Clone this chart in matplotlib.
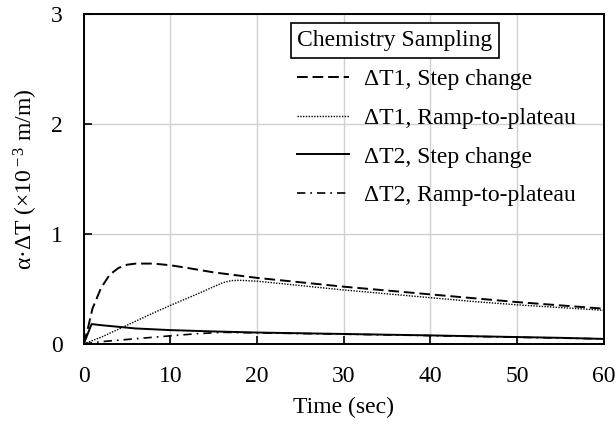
import matplotlib.pyplot as plt

plt.rcParams['font.family'] = 'Liberation Serif'
plt.rcParams['mathtext.fontset'] = 'custom'
plt.rcParams['mathtext.rm'] = 'Liberation Serif'
plt.rcParams['mathtext.it'] = 'Liberation Serif:italic'

# dT1, step change (dashed)
t_t1_step = [0, 0.5, 1, 2, 3, 4, 5, 6, 8, 10, 12, 15, 20, 25, 30, 35, 40, 45, 50, 55, 60]
v_t1_step = [0, 0.15, 0.32, 0.51, 0.63, 0.69, 0.72, 0.73, 0.73, 0.715, 0.69, 0.65, 0.60, 0.56, 0.52, 0.485, 0.45, 0.415, 0.38, 0.35, 0.32]

# dT1, ramp-to-plateau (dotted)
t_t1_ramp = [0, 2, 5, 8, 10, 13, 16, 17, 18, 20, 25, 30, 35, 40, 45, 50, 55, 60]
v_t1_ramp = [0, 0.06, 0.17, 0.28, 0.35, 0.45, 0.555, 0.575, 0.578, 0.57, 0.53, 0.49, 0.455, 0.42, 0.385, 0.355, 0.33, 0.305]

# dT2, step change (solid)
t_t2_step = [0, 0.9, 2, 4, 6, 10, 15, 20, 30, 40, 50, 55, 60]
v_t2_step = [0, 0.18, 0.17, 0.155, 0.14, 0.125, 0.113, 0.103, 0.09, 0.077, 0.062, 0.055, 0.045]

# dT2, ramp-to-plateau (dash-dot)
t_t2_ramp = [0, 2, 5, 8, 10, 13, 16, 20, 30, 40, 50, 60]
v_t2_ramp = [0, 0.02, 0.04, 0.06, 0.073, 0.092, 0.105, 0.10, 0.088, 0.075, 0.06, 0.045]

fig = plt.figure(figsize=(6.16, 4.24), dpi=100)
ax = fig.add_axes([0.136, 0.189, 0.844, 0.778])

ax.plot(t_t1_step, v_t1_step, color='black', lw=1.4, dashes=(5.5, 2.5), label='ΔT1, Step change')
ax.plot(t_t1_ramp, v_t1_ramp, color='black', lw=1.0, dashes=(1, 1), label='ΔT1, Ramp-to-plateau')
ax.plot(t_t2_step, v_t2_step, color='black', lw=1.4, label='ΔT2, Step change')
ax.plot(t_t2_ramp, v_t2_ramp, color='black', lw=1.2, dashes=(5, 3, 1, 3), label='ΔT2, Ramp-to-plateau')

ax.set_xlim(0, 60)
ax.set_ylim(0, 3)
ax.set_xticks(range(0, 61, 10))
ax.set_yticks([0, 1, 2, 3])
ax.tick_params(direction='in', length=6, width=1.2, labelsize=17)
ax.tick_params(axis='x', pad=16)
ax.tick_params(axis='y', pad=15)
ax.grid(True, color='#d0d0d0', lw=1.0)
ax.set_axisbelow(True)
for s in ax.spines.values():
    s.set_linewidth(1.4)

ax.set_xlabel('Time (sec)', fontsize=17, labelpad=7)
ax.set_ylabel(r'α·ΔT (×10$^{\rm -3}$ m/m)', fontsize=17, labelpad=8)

leg = ax.legend(title='Chemistry Sampling', loc='upper left', bbox_to_anchor=(0.37, 1.015),
                frameon=False, fontsize=17, title_fontsize=17, alignment='left',
                handlelength=2.2, handletextpad=0.6, labelspacing=0.73)
leg.get_title().set_bbox(dict(facecolor='white', edgecolor='black', lw=1.2, pad=5))

fig.savefig('out.png')
